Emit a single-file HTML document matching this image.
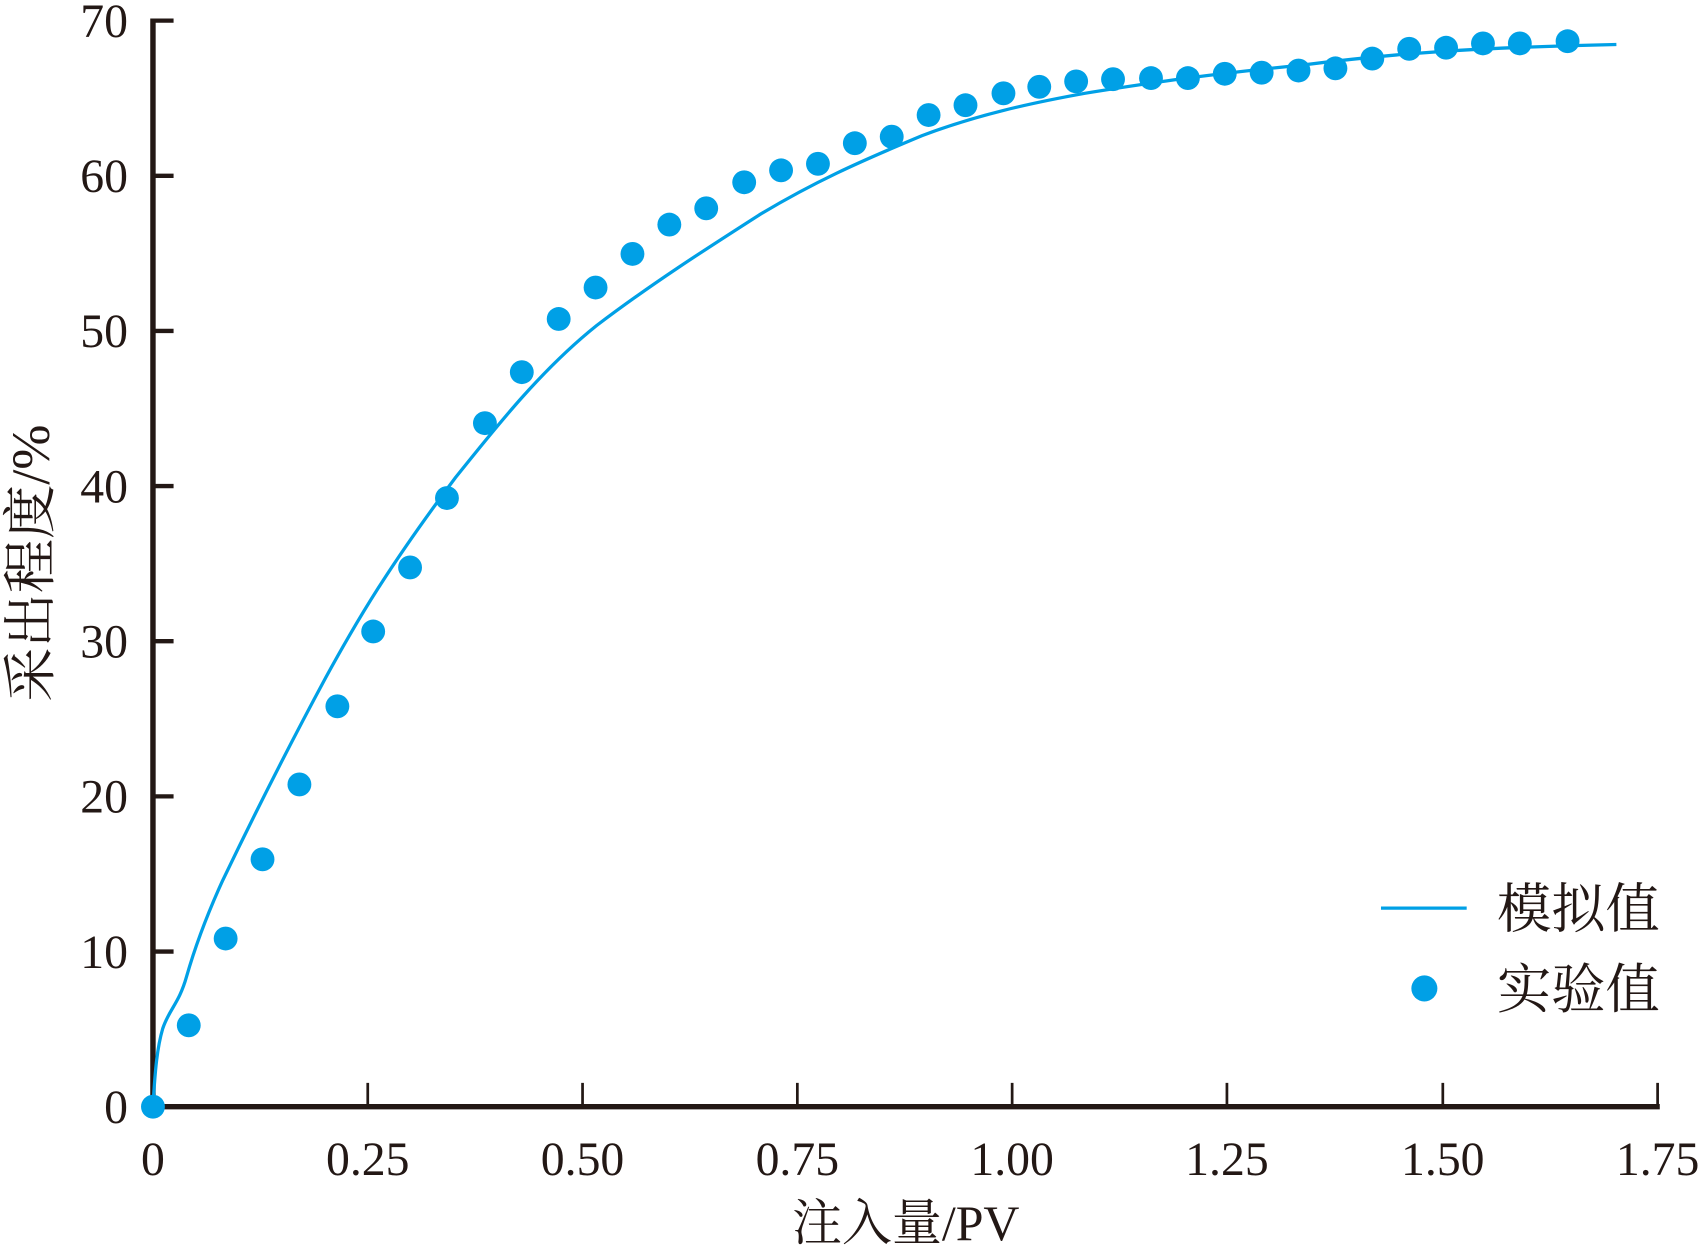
<!DOCTYPE html>
<html><head><meta charset="utf-8"><style>html,body{margin:0;padding:0;background:#fff}svg{display:block}</style></head>
<body>
<svg width="1701" height="1251" viewBox="0 0 1568 1153" preserveAspectRatio="none" xmlns="http://www.w3.org/2000/svg">
<g font-family="'Liberation Serif','Noto Serif CJK SC',serif" fill="#231815">
<g font-size="44" text-anchor="end">
<text x="118" y="1035">0</text><text x="118" y="892">10</text><text x="118" y="749">20</text><text x="118" y="606">30</text><text x="118" y="463">40</text><text x="118" y="320">50</text><text x="118" y="177">60</text><text x="118" y="34">70</text>
</g>
<g font-size="44" text-anchor="middle">
<text x="141" y="1083">0</text><text x="339" y="1083">0.25</text><text x="537" y="1083">0.50</text><text x="735" y="1083">0.75</text><text x="933" y="1083">1.00</text><text x="1131" y="1083">1.25</text><text x="1330" y="1083">1.50</text><text x="1528" y="1083">1.75</text>
</g>
<text x="835" y="1143" font-size="46" text-anchor="middle">注入量/PV</text>
<text transform="translate(45,519) rotate(-90)" font-size="50" text-anchor="middle">采出程度/%</text>
<text x="1380" y="855" font-size="50">模拟值</text>
<text x="1380" y="929" font-size="50">实验值</text>
</g>
<g stroke="#231815" fill="none">
<path d="M141 17V1022" stroke-width="5"/>
<path d="M141 1020H1530" stroke-width="5"/>
<path d="M141 19H160M141 162H160M141 305H160M141 448H160M141 591H160M141 734H160M141 877H160" stroke-width="4"/>
<path d="M339 998V1020M537 998V1020M735 998V1020M933 998V1020M1131 998V1020M1330 998V1020M1528 998V1020" stroke-width="2.5"/>
</g>
<path fill="none" stroke="#00a0e6" stroke-width="3" stroke-linejoin="round" d="M141,1020 C143,985 145,965 150,948 C156,930 165,925 172,900 C180,872 190,845 205,812 C230,760 265,690 300,625 C330,570 360,520 420,440 C460,390 500,340 550,300 C600,262 650,230 700,198 C750,168 790,150 850,125 C900,106 950,95 1000,86 C1050,78 1100,70 1200,60 C1280,50 1350,44 1490,41"/>
<path stroke="#00a0e6" stroke-width="3" d="M1273 837H1352"/>
<g fill="#00a0e6">
<circle cx="1313" cy="911" r="12"/>
<circle cx="141" cy="1020" r="11"/><circle cx="174" cy="945" r="11"/><circle cx="208" cy="865" r="11"/><circle cx="242" cy="792" r="11"/><circle cx="276" cy="723" r="11"/><circle cx="311" cy="651" r="11"/><circle cx="344" cy="582" r="11"/><circle cx="378" cy="523" r="11"/><circle cx="412" cy="459" r="11"/><circle cx="447" cy="390" r="11"/><circle cx="481" cy="343" r="11"/><circle cx="515" cy="294" r="11"/><circle cx="549" cy="265" r="11"/><circle cx="583" cy="234" r="11"/><circle cx="617" cy="207" r="11"/><circle cx="651" cy="192" r="11"/><circle cx="686" cy="168" r="11"/><circle cx="720" cy="157" r="11"/><circle cx="754" cy="151" r="11"/><circle cx="788" cy="132" r="11"/><circle cx="822" cy="126" r="11"/><circle cx="856" cy="106" r="11"/><circle cx="890" cy="97" r="11"/><circle cx="925" cy="86" r="11"/><circle cx="958" cy="80" r="11"/><circle cx="992" cy="75" r="11"/><circle cx="1026" cy="73" r="11"/><circle cx="1061" cy="72" r="11"/><circle cx="1095" cy="72" r="11"/><circle cx="1129" cy="68" r="11"/><circle cx="1163" cy="67" r="11"/><circle cx="1197" cy="65" r="11"/><circle cx="1231" cy="63" r="11"/><circle cx="1265" cy="54" r="11"/><circle cx="1299" cy="45" r="11"/><circle cx="1333" cy="44" r="11"/><circle cx="1367" cy="40" r="11"/><circle cx="1401" cy="40" r="11"/><circle cx="1445" cy="38" r="11"/>
</g>
</svg>
</body></html>
